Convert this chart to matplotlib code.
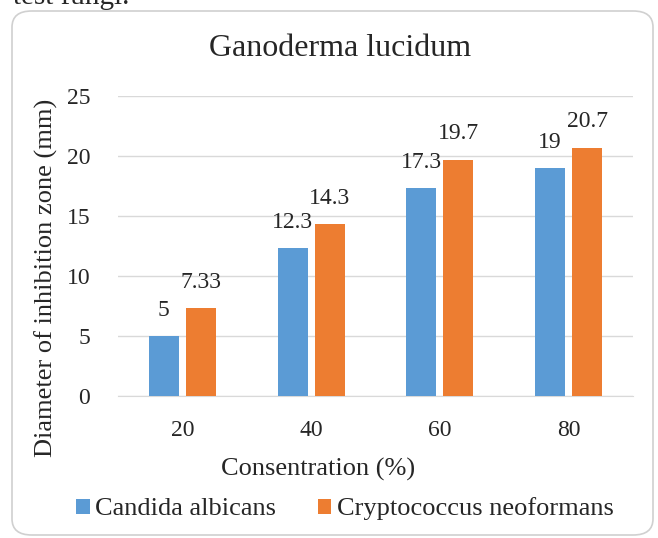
import matplotlib
matplotlib.use("Agg")
import matplotlib.pyplot as plt
from matplotlib.patches import FancyBboxPatch
import numpy as np

categories = ["20", "40", "60", "80"]
candida = [5, 12.3, 17.3, 19]
crypto = [7.33, 14.3, 19.7, 20.7]
candida_labels = ["5", "12.3", "17.3", "19"]
crypto_labels = ["7.33", "14.3", "19.7", "20.7"]
yticks = [0, 5, 10, 15, 20, 25]

BLUE = "#5B9BD5"
ORANGE = "#ED7D31"
TXT = "#262626"
SERIF = ["Liberation Serif", "DejaVu Serif"]
plt.rcParams["font.family"] = SERIF

W, H = 658, 538
fig = plt.figure(figsize=(W / 100, H / 100), dpi=100)
fig.patch.set_facecolor("white")

# outer rounded frame
frame = FancyBboxPatch((12 / W, 3 / H), (641 / W), (524 / H),
                       boxstyle="round,pad=0,rounding_size=0.03",
                       transform=fig.transFigure, facecolor="none",
                       edgecolor="#D0D0D0", linewidth=1.2, zorder=0)
fig.patches.append(frame)

fig.text(13 / W, 1 - 4 / H, "test fungi.", fontsize=21, va="baseline",
         ha="left", color=TXT)

ax = fig.add_axes([118 / W, 1 - 396 / H, 515 / W, 300 / H])
x = np.arange(len(categories))
bw = 0.233
off = 0.144
b1 = ax.bar(x - off, candida, bw, color=BLUE, label="Candida albicans", zorder=3)
b2 = ax.bar(x + off, crypto, bw, color=ORANGE, label="Cryptococcus neoformans", zorder=3)

for xi, v, t in zip(x - off, candida, candida_labels):
    ax.annotate(t, (xi, v), xytext=(0, 18.5), textcoords="offset points",
                ha="center", va="center", fontsize=17, color=TXT)
for xi, v, t in zip(x + off, crypto, crypto_labels):
    ax.annotate(t, (xi, v), xytext=(0, 18.5), textcoords="offset points",
                ha="center", va="center", fontsize=17, color=TXT)

ax.set_xlim(-0.5, 3.5)
ax.set_ylim(0, 25)
ax.set_yticks(yticks)
ax.set_xticks(x)
ax.set_xticklabels(categories)
ax.tick_params(axis="both", length=0, labelsize=17, labelcolor=TXT)
ax.tick_params(axis="x", pad=17)
ax.tick_params(axis="y", pad=20)
ax.grid(axis="y", color="#D9D9D9", linewidth=1, zorder=0)
for s in ["top", "right", "left"]:
    ax.spines[s].set_visible(False)
ax.spines["bottom"].set_color("#D9D9D9")

fig.text(340 / W, 1 - 48 / H, "Ganoderma lucidum", fontsize=23, ha="center",
         va="center", color=TXT)
fig.text(46 / W, 1 - 278 / H, "Diameter of inhibition zone (mm)", fontsize=19,
         rotation=90, ha="center", va="center", color=TXT)
fig.text(318 / W, 1 - 469 / H, "Consentration (%)", fontsize=19, ha="center",
         va="center", color=TXT)

fig.legend(handles=[b1, b2], loc="center", bbox_to_anchor=(345 / W, 1 - 509 / H),
           ncol=2, frameon=False, fontsize=19, handlelength=0.5, handleheight=0.5,
           handletextpad=0.2, columnspacing=1.6, labelcolor=TXT)

fig.savefig("out.png", dpi=100, facecolor="white")
